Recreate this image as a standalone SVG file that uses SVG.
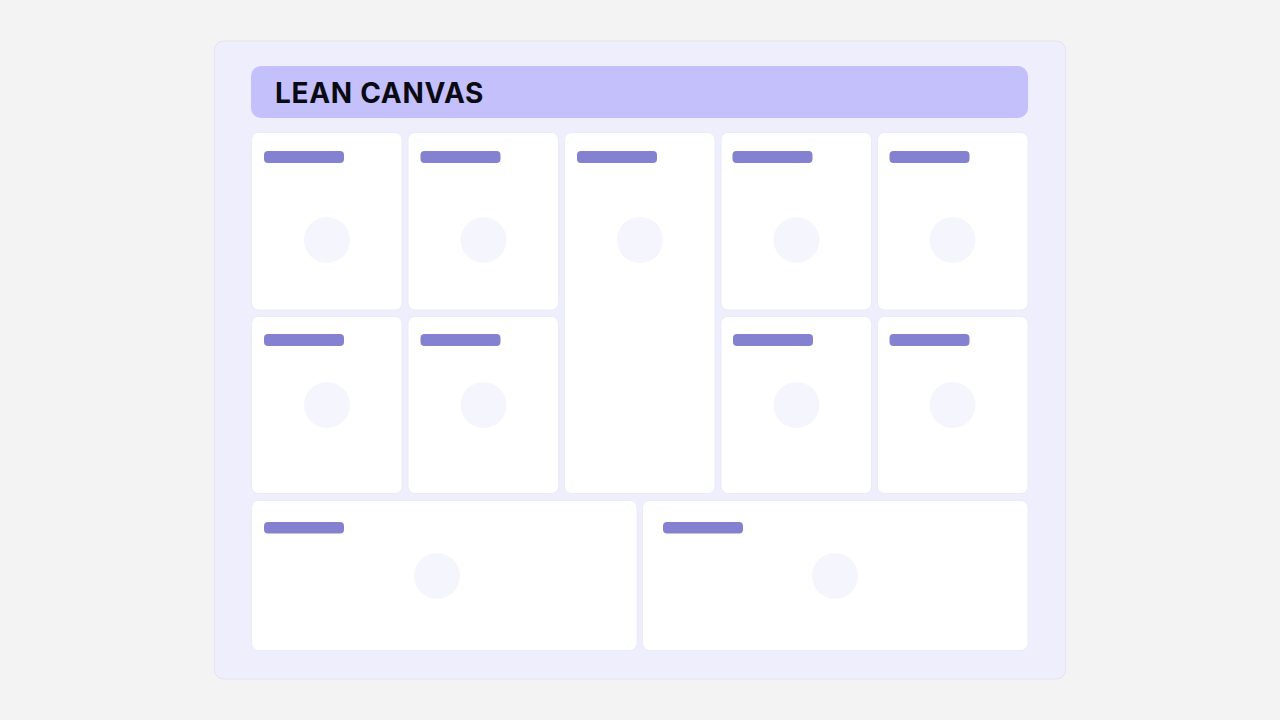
<svg xmlns="http://www.w3.org/2000/svg" width="1280" height="720" viewBox="0 0 1280 720">
<defs>
<style>
.card{fill:#ffffff;stroke:#ebeaf8;stroke-width:1}
.bar{fill:#8481d0}
.dot{fill:#f5f5fd}
.title{font-family:Inter,"Liberation Sans",sans-serif;font-weight:700;font-size:28px;letter-spacing:0.7px;fill:#0a0a14}
</style>
</defs>
<rect x="0" y="0" width="1280" height="720" fill="#f3f3f3"/>
<rect id="panel" x="214.5" y="41" width="851" height="638" rx="9" fill="#efeefd" stroke="#e4e4ec" stroke-width="1"/>
<g id="header">
<rect x="251" y="66" width="777" height="52" rx="10" fill="#c4c0fc"/>
<text class="title" x="275" y="103">LEAN CANVAS</text>
</g>
<g id="cell-1">
<rect class="card" x="251.5" y="132.5" width="150.5" height="177.5" rx="7"/>
<rect class="bar" x="264" y="151" width="80" height="12" rx="4"/>
<circle class="dot" cx="327" cy="240" r="23"/>
</g>
<g id="cell-2">
<rect class="card" x="408" y="132.5" width="150.5" height="177.5" rx="7"/>
<rect class="bar" x="420.5" y="151" width="80" height="12" rx="4"/>
<circle class="dot" cx="483.5" cy="240" r="23"/>
</g>
<g id="cell-3">
<rect class="card" x="564.5" y="132.5" width="150.5" height="361" rx="7"/>
<rect class="bar" x="577" y="151" width="80" height="12" rx="4"/>
<circle class="dot" cx="640" cy="240" r="23"/>
</g>
<g id="cell-4">
<rect class="card" x="721" y="132.5" width="150.5" height="177.5" rx="7"/>
<rect class="bar" x="732.5" y="151" width="80" height="12" rx="4"/>
<circle class="dot" cx="796.5" cy="240" r="23"/>
</g>
<g id="cell-5">
<rect class="card" x="877.5" y="132.5" width="150.5" height="177.5" rx="7"/>
<rect class="bar" x="889.5" y="151" width="80" height="12" rx="4"/>
<circle class="dot" cx="952.5" cy="240" r="23"/>
</g>
<g id="cell-6">
<rect class="card" x="251.5" y="316.5" width="150.5" height="177" rx="7"/>
<rect class="bar" x="264" y="334" width="80" height="12" rx="4"/>
<circle class="dot" cx="327" cy="405" r="23"/>
</g>
<g id="cell-7">
<rect class="card" x="408" y="316.5" width="150.5" height="177" rx="7"/>
<rect class="bar" x="420.5" y="334" width="80" height="12" rx="4"/>
<circle class="dot" cx="483.5" cy="405" r="23"/>
</g>
<g id="cell-8">
<rect class="card" x="721" y="316.5" width="150.5" height="177" rx="7"/>
<rect class="bar" x="733" y="334" width="80" height="12" rx="4"/>
<circle class="dot" cx="796.5" cy="405" r="23"/>
</g>
<g id="cell-9">
<rect class="card" x="877.5" y="316.5" width="150.5" height="177" rx="7"/>
<rect class="bar" x="889.5" y="334" width="80" height="12" rx="4"/>
<circle class="dot" cx="952.5" cy="405" r="23"/>
</g>
<g id="cell-10">
<rect class="card" x="251.5" y="500.5" width="385.5" height="150" rx="7"/>
<rect class="bar" x="264" y="522" width="80" height="11.5" rx="4"/>
<circle class="dot" cx="437" cy="576" r="23"/>
</g>
<g id="cell-11">
<rect class="card" x="642.5" y="500.5" width="385.5" height="150" rx="7"/>
<rect class="bar" x="663" y="522" width="80" height="11.5" rx="4"/>
<circle class="dot" cx="835" cy="576" r="23"/>
</g>
<g id="connectors"></g>
</svg>
